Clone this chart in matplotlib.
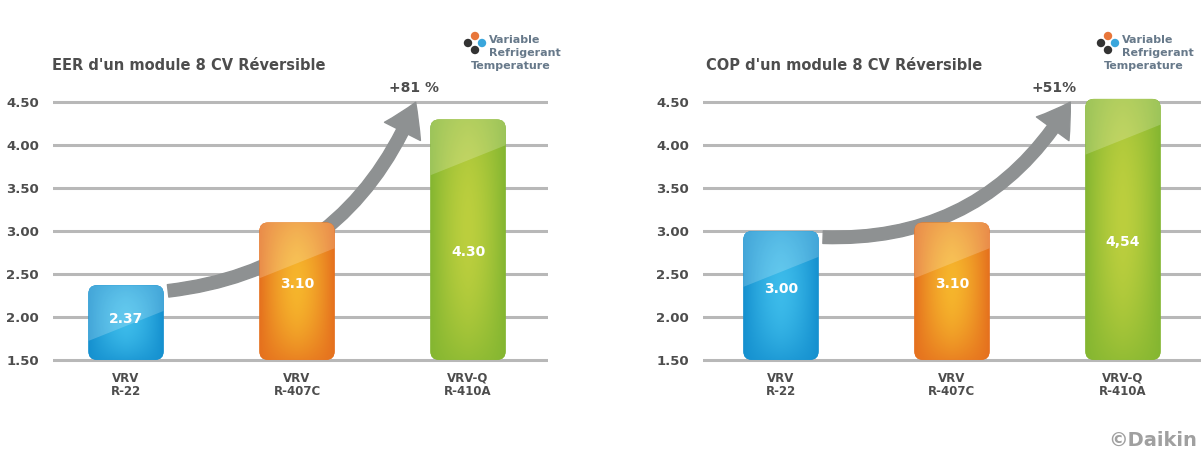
import matplotlib.pyplot as plt
import numpy as np
from matplotlib.patches import FancyBboxPatch, FancyArrowPatch, Ellipse
from matplotlib.colors import to_rgb

# data
categories = [("VRV", "R-22"), ("VRV", "R-407C"), ("VRV-Q", "R-410A")]
eer_values = [2.37, 3.10, 4.30]
eer_labels = ["2.37", "3.10", "4.30"]
cop_values = [3.00, 3.10, 4.54]
cop_labels = ["3.00", "3.10", "4,54"]
ticks = [1.50, 2.00, 2.50, 3.00, 3.50, 4.00, 4.50]
tick_labels = ["1.50", "2.00", "2.50", "3.00", "3.50", "4.00", "4.50"]
titles = ["EER d'un module 8 CV Réversible", "COP d'un module 8 CV Réversible"]
gains = ["+81 %", "+51%"]

bar_dark = ["#1590cf", "#e5701e", "#84b631"]
bar_light = ["#3cbbea", "#f6b52c", "#bccf3e"]
text_dark = "#4d4d4d"
grid_col = "#b8b8b8"

W, H = 1201, 453
fig = plt.figure(figsize=(W / 100, H / 100), dpi=100)


def px(x, y):
    return x / W, 1 - y / H


def draw_bar(ax, rect, dark, light):
    x, y, w, h = rect.get_x(), rect.get_y(), rect.get_width(), rect.get_height()
    patch = FancyBboxPatch((x, y), w, h, boxstyle="round,pad=0,rounding_size=0.05",
                           mutation_aspect=2.0, facecolor=dark, edgecolor="none", zorder=3)
    ax.add_patch(patch)
    # gradient fill, lighter in the middle
    nx, ny = 60, 120
    gx = 1 - np.abs(np.linspace(-1, 1, nx)) ** 1.6
    gy = 1 - np.abs(np.linspace(-1, 1, ny) - 0.1) ** 2 * 0.6
    t = np.clip(np.outer(gy, gx), 0, 1)[..., None]
    img = np.array(to_rgb(dark)) * (1 - t) + np.array(to_rgb(light)) * t
    im = ax.imshow(img, extent=(x, x + w, y, y + h), origin="lower", aspect="auto",
                   zorder=4, interpolation="bilinear")
    im.set_clip_path(patch)
    # glossy top
    gloss = plt.Polygon([(x, y + h), (x + w, y + h), (x + w, y + h - 0.3), (x, y + h - 0.65)],
                        closed=True, facecolor="white", alpha=0.2, edgecolor="none", zorder=5)
    ax.add_patch(gloss)
    gloss.set_clip_path(patch)


def panel(left_px, xlim_left, values, labels, title, gain, title_x, gain_x):
    width_px = W - left_px if left_px > 600 else 495
    ax = fig.add_axes([left_px / W, 88 / H, width_px / W, 273 / H])
    ax.set_xlim(xlim_left, xlim_left + width_px / 171)
    ax.set_ylim(1.44, 4.62)
    ax.set_yticks(ticks)
    ax.set_yticklabels(tick_labels, fontsize=9.5, fontweight="bold", color=text_dark)
    ax.tick_params(axis="y", length=0, pad=10)
    ax.set_xticks([])
    ax.yaxis.grid(True, color=grid_col, linewidth=2.2)
    ax.set_axisbelow(True)
    for s in ax.spines.values():
        s.set_visible(False)

    xs = np.arange(len(values))
    bars = ax.bar(xs, np.array(values) - 1.50, bottom=1.50, width=0.44, alpha=0)
    for i, rect in enumerate(bars):
        draw_bar(ax, rect, bar_dark[i], bar_light[i])
        frac = 0.55 if i < 2 else 0.45
        ax.text(rect.get_x() + rect.get_width() / 2, 1.50 + (values[i] - 1.50) * frac,
                labels[i], ha="center", va="center", color="white", fontsize=10,
                fontweight="bold", zorder=6)
        ax.text(xs[i], 1.36, categories[i][0] + "\n" + categories[i][1], ha="center", va="top",
                fontsize=8.5, fontweight="bold", color=text_dark, linespacing=1.0,
                clip_on=False)

    # growth arrow, goes behind the middle bar
    b0, b2 = bars[0], bars[2]
    start = (b0.get_x() + b0.get_width() + 0.01, values[0] - 0.07)
    end = (b2.get_x() - 0.08, 4.53)
    arrow = FancyArrowPatch(start, end, connectionstyle="arc3,rad=0.3",
                            arrowstyle="simple,head_width=1.45,head_length=1.15,tail_width=0.45",
                            mutation_scale=20, color="#8e9192", zorder=2, clip_on=False)
    ax.add_patch(arrow)

    fig.text(*px(title_x, 66), title, fontsize=10.5, fontweight="bold", color=text_dark,
             va="center", ha="left")
    fig.text(*px(gain_x, 88), gain, fontsize=10, fontweight="bold", color=text_dark,
             va="center", ha="center")
    return ax


panel(53, -0.427, eer_values, eer_labels, titles[0], gains[0], 52, 414)
panel(703, -0.456, cop_values, cop_labels, titles[1], gains[1], 706, 1054)

# logo
logo_col = "#67798a"
for ox in (0, 633):
    fig.text(*px(489 + ox, 40), "Variable", fontsize=8, color=logo_col, va="center",
             fontweight="bold")
    fig.text(*px(489 + ox, 53), "Refrigerant", fontsize=8, color=logo_col, va="center",
             fontweight="bold")
    fig.text(*px(471 + ox, 66), "Temperature", fontsize=8, color=logo_col, va="center",
             fontweight="bold")
    for (dx, dy, c) in [(475, 36, "#e8763a"), (482, 43, "#3aa6dc"), (468, 43, "#333333"),
                        (475, 50, "#333333")]:
        fig.add_artist(Ellipse(px(dx + ox, dy), 7 / W, 7 / H, transform=fig.transFigure,
                               color=c))

fig.text(*px(1197, 440), "©Daikin", fontsize=14, color="#a0a0a0", va="center", ha="right",
         fontweight="bold")

fig.savefig("out.png", dpi=100, facecolor="white")
